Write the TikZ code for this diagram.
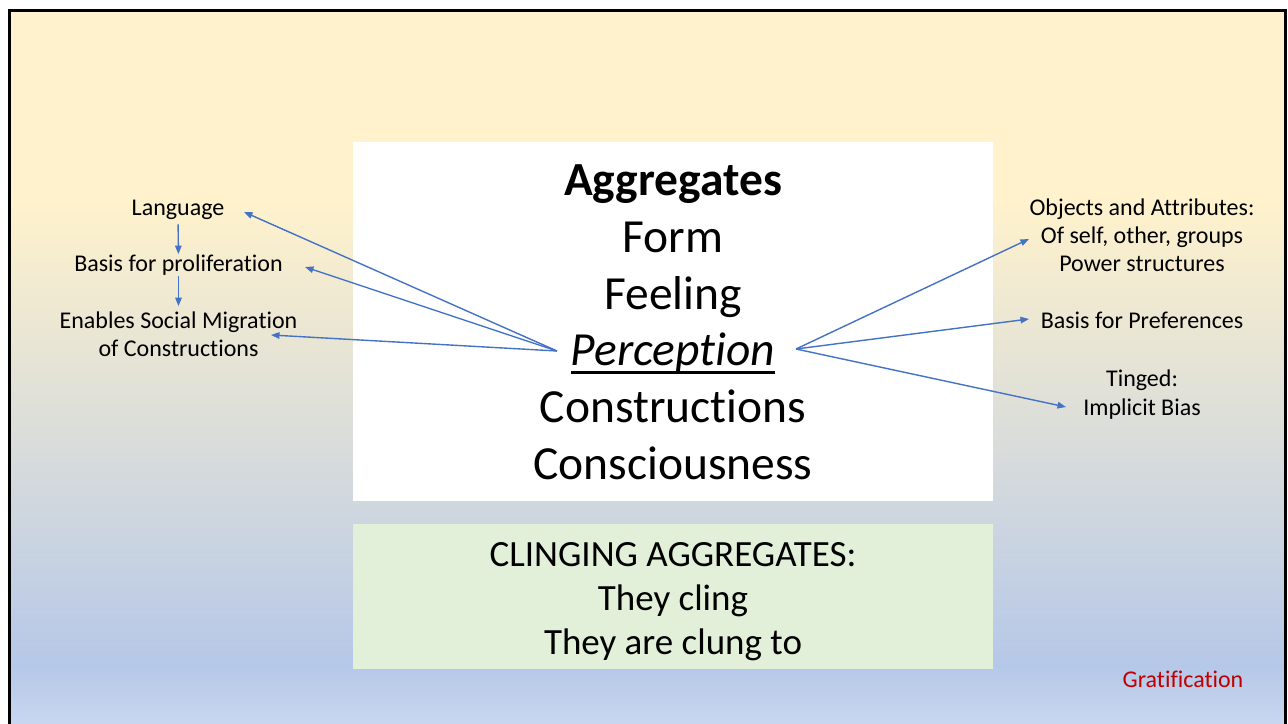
\documentclass[tikz,border=0pt]{standalone}
\usepackage{fontspec}
\setmainfont{Carlito}[Ligatures={NoCommon,NoContextual}, RawFeature=-calt, RawFeature=-ccmp, RawFeature=-clig]
\usetikzlibrary{arrows.meta}
\definecolor{bgyellow}{HTML}{FFF2CC}
\definecolor{bgblue}{HTML}{B6C8E8}
\definecolor{bgbottom}{HTML}{CAD9F0}
\definecolor{boxgreen}{HTML}{E2F0D9}
\definecolor{arrowblue}{HTML}{4472C4}
\definecolor{gratred}{HTML}{C00000}
\begin{document}
\begin{tikzpicture}[x=1pt,y=-1pt,
  big/.style={font=\fontsize{47.5}{57}\selectfont, inner sep=0pt, anchor=base},
  bigbold/.style={font=\bfseries\fontsize{47.5}{57}\selectfont, inner sep=0pt, anchor=base},
  bigital/.style={font=\itshape\fontsize{47.5}{57}\selectfont, inner sep=0pt, anchor=base},
  mid/.style={font=\fontsize{37}{44}\selectfont, inner sep=0pt, anchor=base},
  small/.style={font=\fontsize{24}{29}\selectfont, inner sep=0pt, anchor=base},
  link/.style={draw=arrowblue, line width=1.4pt, -{Triangle[length=8.5pt,width=6.5pt]}},
  panel/.style={inner sep=0pt, anchor=north west, minimum width=640pt}]
\useasboundingbox (0,0) rectangle (1288,723);
\fill[white] (0,0) rectangle (1288,723);
% background gradient
\fill[bgyellow] (9.5,10.5) rectangle (1285,201);
\shade[top color=bgyellow, bottom color=bgblue] (9.5,200) rectangle (1285,667);
\shade[top color=bgblue, bottom color=bgbottom] (9.5,666) rectangle (1285,730);
\draw[line width=3pt] (9.5,745) -- (9.5,10.5) -- (1285,10.5) -- (1285,745);

% panels
\node[panel, fill=white, minimum height=359pt] (mainbox) at (353,142) {};
\node[panel, fill=boxgreen, minimum height=145pt] (clingbox) at (353,524) {};

% central words
\node[bigbold] (agg) at (673,195) {Aggregates};
\node[big] (form) at (673,252) {Form};
\node[big] (feel) at (673,309) {Feeling};
\node[bigital] (perc) at (673,365) {Perception};
\draw[line width=3pt] ([yshift=-7pt]perc.base west) -- ([yshift=-7pt]perc.base east);
\node[big] (constr) at (673,422) {Constructions};
\node[big] (consc) at (673,479) {Consciousness};

% clinging
\node[mid] (cl1) at (673,566) {CLINGING AGGREGATES:};
\node[mid] (cl2) at (673,610) {They cling};
\node[mid] (cl3) at (673,654) {They are clung to};

% left labels
\node[small] (lang) at (178,215) {Language};
\node[small] (basisp) at (178.5,271) {Basis for proliferation};
\node[small] (enab) at (178.5,328) {Enables Social Migration};
\node[small] (enab2) at (178.5,356) {of Constructions};

% right labels
\node[small] (obj) at (1142,215) {Objects and Attributes:};
\node[small] (obj2) at (1142,243) {Of self, other, groups};
\node[small] (obj3) at (1142,271) {Power structures};
\node[small] (pref) at (1142,328) {Basis for Preferences};
\node[small] (ting) at (1142,386) {Tinged:};
\node[small] (bias) at (1142,415) {Implicit Bias};

\node[small, text=gratred] (grat) at (1183,687) {Gratification};

% connectors
\coordinate (lo) at (557,351);
\coordinate (ro) at (796,349);
\coordinate (lt1) at (244,212);
\coordinate (lt2) at (305,267);
\coordinate (lt3) at (271,335);
\coordinate (rt1) at (1029,239);
\coordinate (rt2) at (1029,319);
\coordinate (rt3) at (1066,407);
\draw[link] (lo) -- (lt1);
\draw[link] (lo) -- (lt2);
\draw[link] (lo) -- (lt3);
\draw[link] (ro) -- (rt1);
\draw[link] (ro) -- (rt2);
\draw[link] (ro) -- (rt3);
\draw[link, shorten <=5pt, shorten >=0pt] (lang) -- (basisp);
\draw[link, shorten <=1pt, shorten >=5pt] (basisp) -- (enab);
\end{tikzpicture}
\end{document}
